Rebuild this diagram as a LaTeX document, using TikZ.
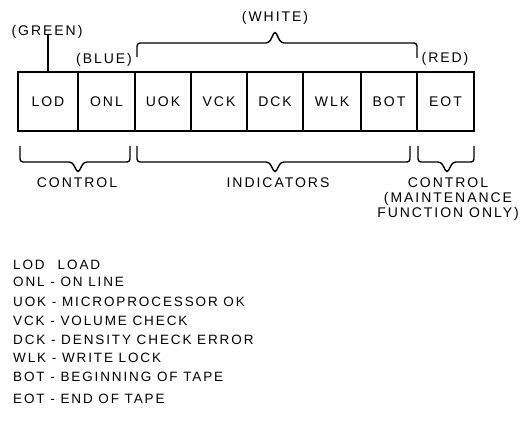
\documentclass[tikz,border=0pt]{standalone}
\usepackage{fontspec}
\setmainfont{Liberation Sans}[LetterSpace=14]
\begin{document}
\begin{tikzpicture}[x=1pt,y=-1pt,
  lab/.style={font=\fontsize{14}{16}\selectfont, inner sep=0pt},
  leg/.style={font=\fontsize{13.5}{16}\selectfont, inner sep=0pt, anchor=west},
  cell/.style={draw, line width=1.6pt, minimum height=59pt, inner sep=0pt, font=\fontsize{14}{16}\selectfont},
  bracepath/.style={line width=1.4pt, rounded corners=3pt},
  lead/.style={line width=1.4pt}]
\useasboundingbox (0,0) rectangle (521,446);
% indicator cells
\node[cell, minimum width=60pt] (lod) at (48,101.5) {LOD};
\node[cell, minimum width=57pt] (onl) at (106.5,101.5) {ONL};
\node[cell, minimum width=56pt] (uok) at (163,101.5) {UOK};
\node[cell, minimum width=56pt] (vck) at (219,101.5) {VCK};
\node[cell, minimum width=56pt] (dck) at (275,101.5) {DCK};
\node[cell, minimum width=58pt] (wlk) at (332,101.5) {WLK};
\node[cell, minimum width=56pt] (bot) at (389,101.5) {BOT};
\node[cell, minimum width=57pt] (eot) at (445.5,101.5) {EOT};
% colour labels
\node[lab] (green) at (47,32) {(GREEN)};
\node[lab] (blue) at (104,60) {(BLUE)};
\node[lab] (red) at (445,59) {(RED)};
\node[lab] (white) at (275,18) {(WHITE)};
\draw[lead] (green.south -| lod.center) ++(0,5pt) coordinate (gtop) -- (gtop |- lod.north);
% top brace
\coordinate (tbl) at (137,57);
\coordinate (tbr) at (417,58);
\draw[bracepath] (tbl) -- (137,43) -- (269,43) -- (275,31) -- (281,43) -- (417,43) -- (tbr);
% bottom braces
\coordinate (b1l) at (20,146);
\coordinate (b1r) at (130,146);
\draw[bracepath] (b1l) -- (20,162) -- (72,162) -- (78,173) -- (84,162) -- (130,162) -- (b1r);
\coordinate (b2l) at (137,146);
\coordinate (b2r) at (410,146);
\draw[bracepath] (b2l) -- (137,162) -- (269,162) -- (275,173) -- (281,162) -- (410,162) -- (b2r);
\coordinate (b3l) at (418,146);
\coordinate (b3r) at (474,146);
\draw[bracepath] (b3l) -- (418,162) -- (441,162) -- (447,173) -- (453,162) -- (474,162) -- (b3r);
% group labels
\node[lab] (ctl1) at (77,183) {CONTROL};
\node[lab] (ind) at (278,183) {INDICATORS};
\node[lab] (ctl2) at (448,183) {CONTROL};
\node[lab] (mnt1) at (448,199) {(MAINTENANCE};
\node[lab] (mnt2) at (448,214) {FUNCTION ONLY)};
% legend
\node[leg] (l1) at (13,265) {LOD\hspace{13pt}LOAD};
\node[leg] (l2) at (13,282) {ONL - ON LINE};
\node[leg] (l3) at (13,302) {UOK - MICROPROCESSOR OK};
\node[leg] (l4) at (13,321) {VCK - VOLUME CHECK};
\node[leg] (l5) at (13,340) {DCK - DENSITY CHECK ERROR};
\node[leg] (l6) at (13,358) {WLK - WRITE LOCK};
\node[leg] (l7) at (13,377) {BOT - BEGINNING OF TAPE};
\node[leg] (l8) at (13,399) {EOT - END OF TAPE};
\end{tikzpicture}
\end{document}
